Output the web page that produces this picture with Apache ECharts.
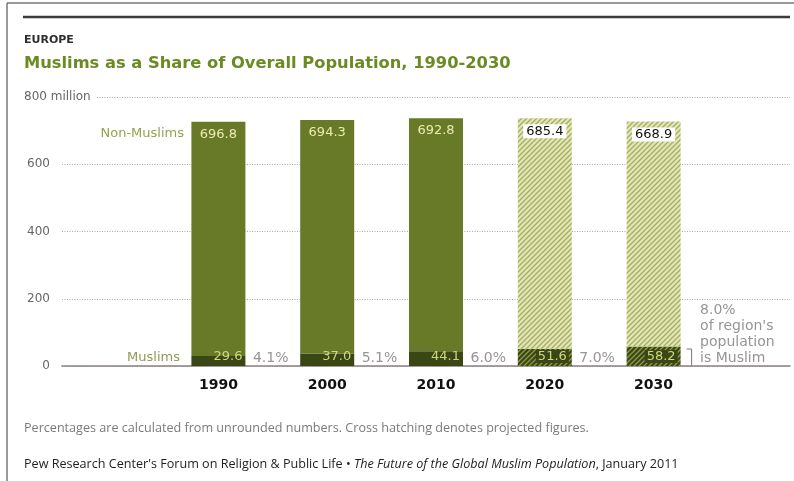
<!DOCTYPE html>
<html>
<head>
<meta charset="utf-8">
<script src="https://cdn.jsdelivr.net/npm/echarts@6/dist/echarts.min.js"></script>
<style>
  html, body { margin: 0; padding: 0; background: #fff; }
  #chart { width: 794px; height: 481px; }
</style>
</head>
<body>
<div id="chart"></div>
<script>
// data (millions)
var years = ['1990', '2000', '2010', '2020', '2030'];
var muslims = [29.6, 37.0, 44.1, 51.6, 58.2];
var nonMuslims = [696.8, 694.3, 692.8, 685.4, 668.9];
var muslimShare = ['4.1%', '5.1%', '6.0%', '7.0%', '8.0%'];
var projected = [false, false, false, true, true];
var yTicks = [0, 200, 400, 600, 800];

var OLIVE = '#687a28';
var DARK = '#3a4614';

// cross hatching for projected figures
function hatch(bg, fg) {
  var c = document.createElement('canvas');
  c.width = 5; c.height = 5;
  var ctx = c.getContext('2d');
  ctx.fillStyle = bg;
  ctx.fillRect(0, 0, 5, 5);
  ctx.strokeStyle = fg;
  ctx.lineWidth = 1.3;
  ctx.beginPath();
  ctx.moveTo(0, 5); ctx.lineTo(5, 0);
  ctx.moveTo(-1, 1); ctx.lineTo(1, -1);
  ctx.moveTo(4, 6); ctx.lineTo(6, 4);
  ctx.stroke();
  return { image: c, repeat: 'repeat' };
}
var lightHatch = hatch('#e2e5b6', '#a6ae62');
var darkHatch = hatch('#3a4614', '#8e9a4a');

var chartDom = document.getElementById('chart');
var myChart = echarts.init(chartDom);
var option;

var muslimData = muslims.map(function (v, i) {
  var item = { value: v, itemStyle: { color: projected[i] ? darkHatch : DARK } };
  if (projected[i]) {
    item.label = { backgroundColor: DARK, padding: [0, 2, 0, 2] };
  }
  return item;
});

var nonMuslimData = nonMuslims.map(function (v, i) {
  var item = { value: v, itemStyle: { color: projected[i] ? lightHatch : OLIVE } };
  if (projected[i]) {
    item.label = { color: '#111', backgroundColor: '#fff', padding: [1, 3, 0, 3] };
  }
  return item;
});

var shareData = muslimShare.map(function (s, i) {
  var item = { value: 0 };
  if (i === muslimShare.length - 1) {
    item.label = {
      formatter: s + "\nof region's\npopulation\nis Muslim",
      distance: 46,
      offset: [0, -32],
      lineHeight: 16
    };
  }
  return item;
});

option = {
  animation: false,
  backgroundColor: '#fff',
  textStyle: { fontFamily: 'DejaVu Sans' },
  grid: [
    { left: 62, right: 4, top: 97, bottom: 115, outerBoundsMode: 'none', containLabel: false },
    { left: 164, right: 86, top: 97, bottom: 115, outerBoundsMode: 'none', containLabel: false }
  ],
  xAxis: [
    {
      gridIndex: 0, type: 'value', min: 0, max: 1,
      axisLine: { show: true, lineStyle: { color: '#8c8080', width: 1.5 } },
      axisTick: { show: false }, axisLabel: { show: false }, splitLine: { show: false }
    },
    {
      gridIndex: 1, type: 'category', data: years,
      axisLine: { show: false }, axisTick: { show: false },
      axisLabel: { margin: 12, color: '#111', fontSize: 14, fontWeight: 'bold', fontFamily: 'DejaVu Sans' }
    }
  ],
  yAxis: [
    {
      gridIndex: 0, type: 'value', position: 'left', min: 0, max: 800, interval: 200,
      axisLine: { show: false }, axisTick: { show: false }, axisLabel: { show: false },
      splitLine: { show: true, lineStyle: { color: '#a9a9a9', type: [1, 1.5], width: 1 } }
    },
    {
      gridIndex: 1, type: 'value', min: 0, max: 800, interval: 200, show: false
    },
    {
      gridIndex: 0, type: 'value', position: 'left', offset: 0, min: 0, max: 800, interval: 200, z: 5,
      axisLine: { show: false }, axisTick: { show: false }, splitLine: { show: false },
      axisLabel: {
        align: 'left', margin: 38, fontSize: 12, color: '#666',
        formatter: function (v) {
          return v === yTicks[yTicks.length - 1] ? '{top|' + v + ' million}' : '{n|' + v + '}';
        },
        rich: {
          top: { fontSize: 12, color: '#666', backgroundColor: '#fff', padding: [2, 6, 2, 0] },
          n: { fontSize: 12, color: '#666', width: 26, align: 'right' }
        }
      }
    }
  ],
  series: [
    {
      name: 'Muslims', type: 'bar', stack: 'pop', xAxisIndex: 1, yAxisIndex: 1,
      barWidth: 54, data: muslimData,
      label: {
        show: true, position: 'insideBottomRight', distance: 3,
        color: '#cfd67f', fontSize: 13,
        formatter: function (p) { return p.value.toFixed(1); }
      }
    },
    {
      name: 'Non-Muslims', type: 'bar', stack: 'pop', xAxisIndex: 1, yAxisIndex: 1,
      barWidth: 54, data: nonMuslimData,
      label: {
        show: true, position: 'insideTop', distance: 6,
        color: '#ecebb0', fontSize: 13,
        formatter: function (p) { return p.value.toFixed(1); }
      }
    },
    {
      name: 'share', type: 'scatter', xAxisIndex: 1, yAxisIndex: 1,
      symbolSize: 1, itemStyle: { color: 'rgba(0,0,0,0)' }, silent: true, z: 4,
      data: shareData,
      label: {
        show: true, position: 'right', distance: 34, offset: [0, -8],
        align: 'left', color: '#7a7a7a', fontSize: 14,
        formatter: function (p) { return muslimShare[p.dataIndex]; }
      }
    }
  ]
};

option && myChart.setOption(option);

// annotations: frame, heading, notes, bracket
var p2030 = myChart.convertToPixel({ xAxisIndex: 1, yAxisIndex: 1 }, [years.length - 1, 0]);
var bx = p2030[0] + 38;

myChart.setOption({
  graphic: [
    { type: 'line', shape: { x1: 7, y1: 3, x2: 7, y2: 481 }, style: { stroke: '#777', lineWidth: 1.5 } },
    { type: 'line', shape: { x1: 7, y1: 3, x2: 794, y2: 3 }, style: { stroke: '#777', lineWidth: 1.5 } },
    { type: 'line', shape: { x1: 23, y1: 17, x2: 790, y2: 17 }, style: { stroke: '#3b3b3b', lineWidth: 2.5 } },
    { type: 'text', x: 24, y: 40, style: { text: 'EUROPE', fill: '#2e2e2e', font: 'bold 11px "DejaVu Sans"', verticalAlign: 'middle' } },
    { type: 'text', x: 24, y: 64, style: { text: 'Muslims as a Share of Overall Population, 1990-2030', fill: '#6b8a22', font: 'bold 16.3px "DejaVu Sans"', verticalAlign: 'middle' } },
    { type: 'text', x: 184, y: 134, style: { text: 'Non-Muslims', fill: '#95a24f', font: '13px "DejaVu Sans"', align: 'right', verticalAlign: 'middle' } },
    { type: 'text', x: 180, y: 358, style: { text: 'Muslims', fill: '#8f9a55', font: '13px "DejaVu Sans"', align: 'right', verticalAlign: 'middle' } },
    { type: 'polyline', shape: { points: [[bx - 5, 349], [bx, 349], [bx, p2030[1]]] }, style: { stroke: '#777', lineWidth: 1, fill: null } },
    { type: 'text', x: 24, y: 428, style: { text: 'Percentages are calculated from unrounded numbers. Cross hatching denotes projected figures.', fill: '#7a7a7a', font: '12.6px "Open Sans"', verticalAlign: 'middle' } },
    {
      type: 'text', x: 24, y: 464,
      style: {
        text: "{n|Pew Research Center's Forum on Religion & Public Life \u2022 }{i|The Future of the Global Muslim Population}{n|, January 2011}",
        verticalAlign: 'middle',
        rich: {
          n: { fill: '#1e1e1e', font: '12.6px "Open Sans"' },
          i: { fill: '#1e1e1e', font: 'italic 12.6px "Open Sans"' }
        }
      }
    }
  ]
});
</script>
</body>
</html>
